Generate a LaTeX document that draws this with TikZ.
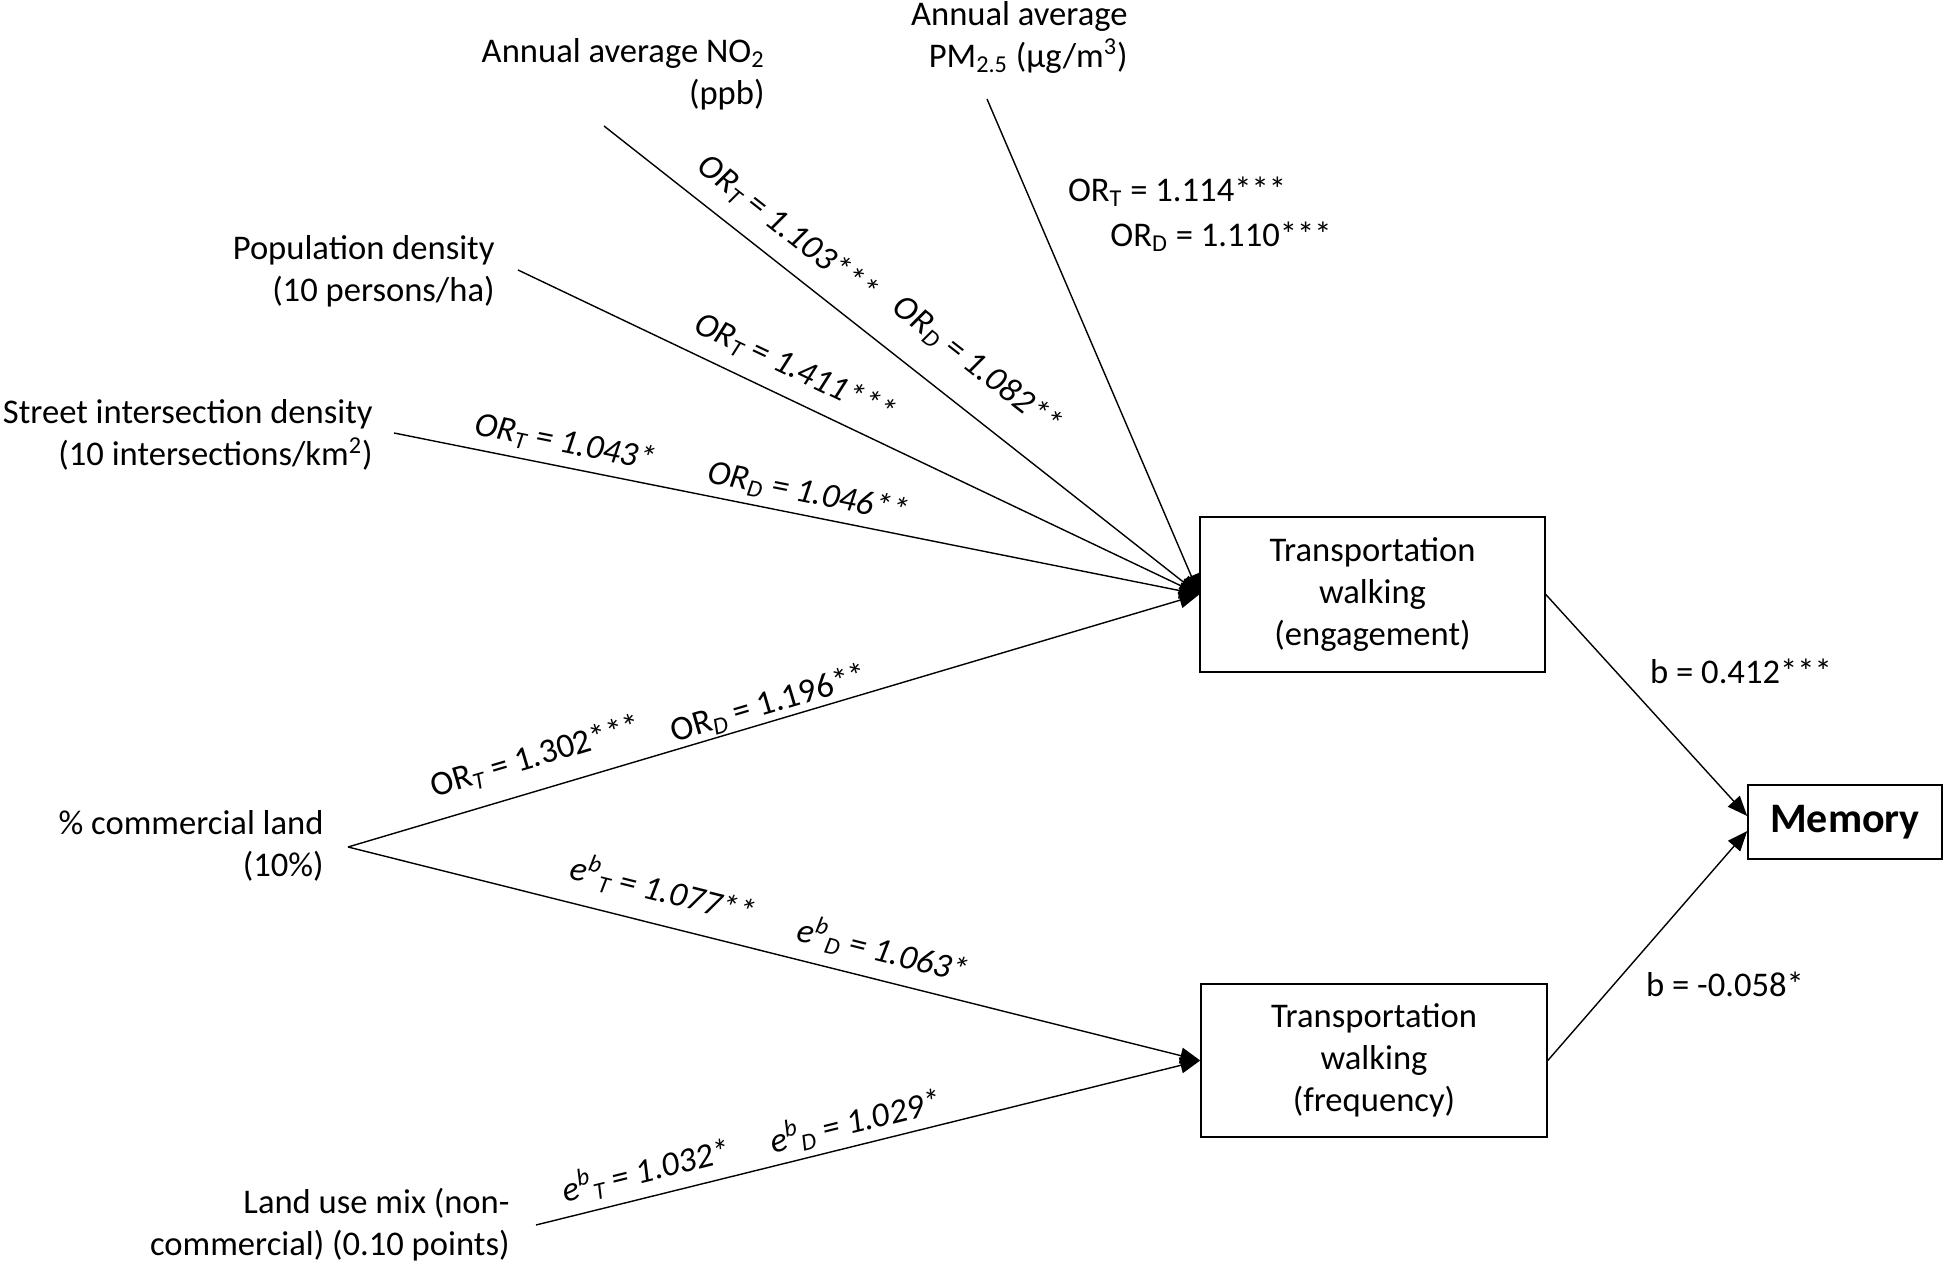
\documentclass[tikz,border=0pt]{standalone}
\usepackage{fontspec}
\setmainfont{Carlito}
\usetikzlibrary{arrows.meta}
\newcommand\subit[1]{\textsubscript{\itshape #1}}
\newcommand\ebit[1]{\textit{e}\textsuperscript{\itshape b}\textsubscript{\itshape #1}}
\begin{document}
\begin{tikzpicture}[x=0.5pt,y=-0.5pt,
  every node/.style={font=\fontsize{17.3}{21}\selectfont, inner sep=0pt},
  src/.style={align=right, anchor=east},
  box/.style={draw, line width=0.8pt, align=center},
  conn/.style={line width=0.7pt},
  arr/.style={conn, -{Triangle[length=10pt,width=8pt]}},
  lab/.style={font=\fontsize{17.3}{21}\selectfont\itshape},
  labup/.style={font=\fontsize{17.3}{21}\selectfont},
]
\useasboundingbox (0,0) rectangle (1944,1267);

% source texts
\node[src] (no2) at (765,74) {Annual average NO\textsubscript{2}\\(ppb)};
\node[src] (pm) at (1128,37) {Annual average\\PM\textsubscript{2.5} (µg/m\textsuperscript{3})};
\node[src] (pop) at (495,271) {Population density\\(10 persons/ha)};
\node[src] (str) at (373,435) {Street intersection density\\(10 intersections/km\textsuperscript{2})};
\node[src] (com) at (324,846) {\% commercial land\\(10\%)};
\node[src] (lu) at (510,1225) {Land use mix (non-\\commercial) (0.10 points)};

% line start points
\coordinate (no2s) at (604,126);
\coordinate (pms) at (987,99);
\coordinate (pops) at (518,270);
\coordinate (strs) at (394,433);
\coordinate (coms) at (348,847);
\coordinate (lus) at (536,1225);

% boxes
\node[box, minimum width=172.5pt, minimum height=77.5pt] (eng) at (1372.5,594.5) {Transportation\\walking\\(engagement)};
\node[box, minimum width=173pt, minimum height=76.5pt] (freq) at (1374,1060.5) {Transportation\\walking\\(frequency)};
\node[box, minimum width=97pt, minimum height=37pt, font=\fontsize{21}{25}\selectfont\bfseries] (mem) at (1845,822) {Memory};

% connectors
\draw[arr] (no2s) -- (eng.west);
\draw[arr] (pms) -- (eng.west);
\draw[arr] (pops) -- (eng.west);
\draw[arr] (strs) -- (eng.west);
\draw[arr] (coms) -- (eng.west);
\draw[arr] (coms) -- (freq.west);
\draw[arr] (lus) -- (freq.west);
\draw[arr] (eng.east) -- ([yshift=3pt]mem.west);
\draw[arr] (freq.east) -- ([yshift=-4.5pt]mem.west);

% labels
\node[lab, rotate=-38.1] (l1) at (787,229) {OR\subit{T} = 1.103***};
\node[lab, rotate=-38.1] (l2) at (977,366) {OR\subit{D} = 1.082**};
\node[lab, rotate=-25.4] (l3) at (795,369) {OR\subit{T} = 1.411***};
\node[lab, rotate=-11.3] (l4) at (565,443) {OR\subit{T} = 1.043*};
\node[lab, rotate=-11.3] (l5) at (808,493) {OR\subit{D} = 1.046**};
\node[labup] (l6) at (1177,192) {OR\textsubscript{T} = 1.114***};
\node[labup] (l7) at (1221,237) {OR\textsubscript{D} = 1.110***};
\node[labup, rotate=16.5] (l8) at (536,757) {OR\subit{T} = 1.302***};
\node[labup, rotate=16.5] (l9) at (769,704) {OR\subit{D} = 1.196**};
\node[lab, rotate=-14.1] (l10) at (663,890) {\ebit{T} = 1.077**};
\node[lab, rotate=-14.1] (l11) at (883,950) {\ebit{D} = 1.063*};
\node[lab, rotate=13.9] (l12) at (646,1170) {\ebit{T} = 1.032*};
\node[lab, rotate=13.9] (l13) at (855,1121) {\ebit{D} = 1.029*};
\node[labup] (l14) at (1741,671) {b = 0.412***};
\node[labup] (l15) at (1725,984) {b = -0.058*};
\end{tikzpicture}
\end{document}
